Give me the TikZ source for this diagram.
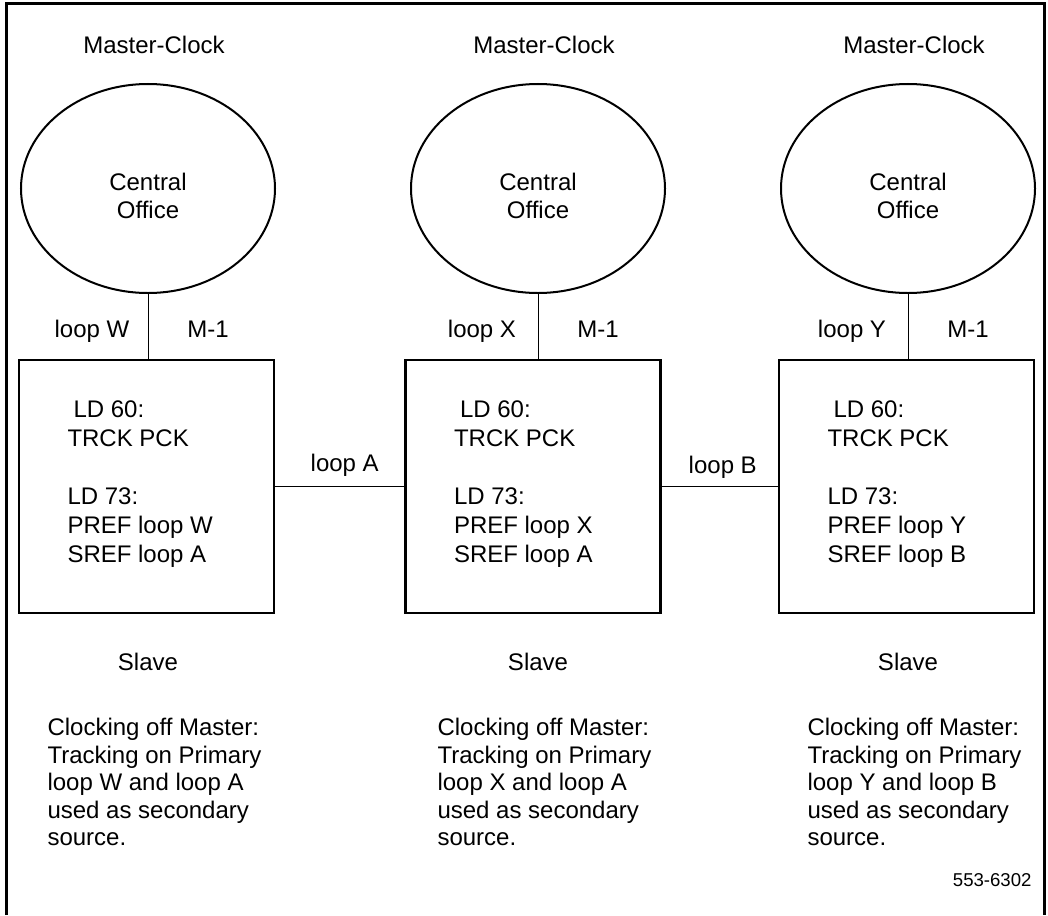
\documentclass[tikz,border=0pt]{standalone}
\usepackage{fontspec}
\setmainfont{Liberation Sans}
\usetikzlibrary{shapes.geometric}

\begin{document}
\begin{tikzpicture}
[x=0.5pt, y=-0.5pt, line width=0.5pt,
txt/.style={inner sep=0pt, font=\fontsize{12}{14.55}\selectfont},
office/.style={ellipse, draw, line width=1pt, inner sep=0pt,
    minimum width=127pt, minimum height=104.5pt},
slavebox/.style={rectangle, draw, line width=1.2pt, inner sep=0pt,
    minimum width=127.5pt, minimum height=126.5pt}]

\useasboundingbox (0,0) rectangle (1048,915);
\draw[line width=1.5pt] (6,915) -- (6,3.5) -- (1044,3.5) -- (1044,915);

\foreach \i/\cx/\bx/\p/\s in {1/148/146.5/W/A, 2/538/533/X/A, 3/908/906.5/Y/B} {
    \node[txt, anchor=base] (mc\i) at (\cx+6, 54) {Master-Clock};
    \node[office] (co\i) at (\cx, 188.5) {};
    \node[txt, align=center, font=\fontsize{12}{14.15}\selectfont] (cot\i) at (\cx, 196) {Central\\Office};
    \node[slavebox] (b\i) at (\bx, 486.5) {};
    \draw (co\i.south) -- (co\i.south |- b\i.north);
    \node[txt, anchor=base] (lp\i) at (\cx-56, 337) {loop \p};
    \node[txt, anchor=base] (m\i) at (\cx+60, 337) {M-1};
    \node[txt, align=left, anchor=west] (ld\i) at (\bx-79.5, 484)
        {\hspace*{3pt}LD 60:\\TRCK PCK\\[14.55pt]LD 73:\\PREF loop \p\\SREF loop \s};
    \node[txt, anchor=base] (sl\i) at (\cx, 670) {Slave};
    \node[txt, align=left, anchor=north west, font=\fontsize{12}{13.75}\selectfont] (cl\i) at (\cx-101, 718)
        {Clocking off Master:\\Tracking on Primary\\loop \p{} and loop \s\\used as secondary\\source.};
}

\draw (b1.east) -- node[txt, above=5pt, xshift=2.5pt] (la) {loop A} (b2.west);
\draw (b2.east) -- node[txt, above=3.8pt, xshift=1.5pt] (lb) {loop B} (b3.west);

\node[txt, anchor=base east, font=\fontsize{9.3}{11}\selectfont] (fig) at (1032, 886) {553-6302};

\end{tikzpicture}
\end{document}
